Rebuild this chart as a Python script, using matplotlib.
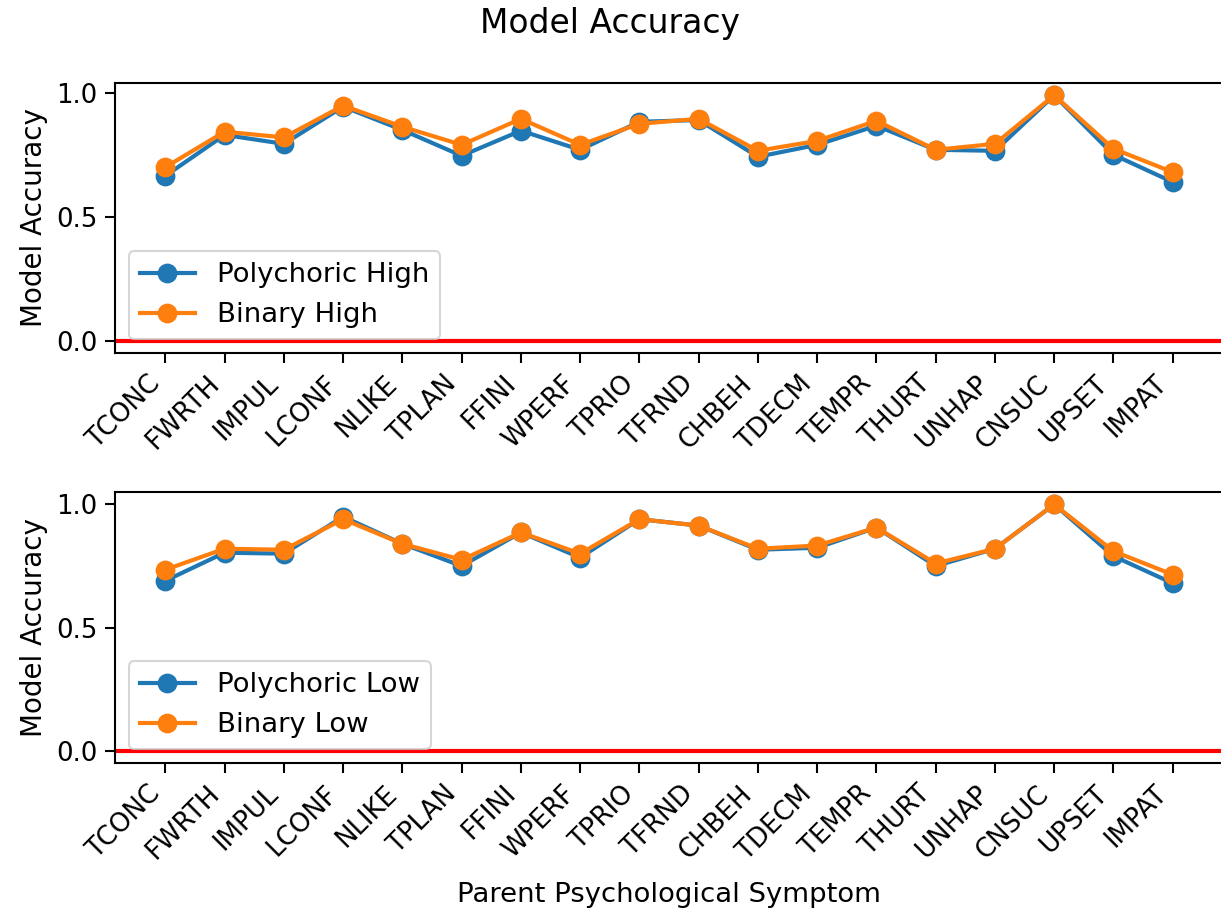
import matplotlib
matplotlib.use("Agg")
from matplotlib import pyplot as plt
from matplotlib.ticker import MultipleLocator

symptoms = ["TCONC", "FWRTH", "IMPUL", "LCONF", "NLIKE", "TPLAN", "FFINI", "WPERF", "TPRIO",
            "TFRND", "CHBEH", "TDECM", "TEMPR", "THURT", "UNHAP", "CNSUC", "UPSET", "IMPAT"]

poly_high = [0.665, 0.83, 0.794, 0.944, 0.85, 0.746, 0.847, 0.77, 0.883,
             0.89, 0.742, 0.79, 0.867, 0.77, 0.766, 0.99, 0.75, 0.64]
binary_high = [0.70, 0.843, 0.82, 0.948, 0.863, 0.79, 0.895, 0.79, 0.875,
               0.895, 0.766, 0.806, 0.887, 0.77, 0.794, 0.99, 0.774, 0.68]

poly_low = [0.69, 0.804, 0.80, 0.95, 0.84, 0.75, 0.886, 0.784, 0.94,
            0.914, 0.816, 0.824, 0.906, 0.75, 0.82, 1.0, 0.79, 0.68]
binary_low = [0.735, 0.82, 0.816, 0.94, 0.84, 0.775, 0.886, 0.80, 0.94,
              0.914, 0.82, 0.833, 0.906, 0.76, 0.82, 1.0, 0.81, 0.715]


def draw(ax, poly, binary, tag):
    ax.plot(symptoms, poly, marker='o', markersize=8.5, linewidth=2, label="Polychoric " + tag)
    ax.plot(symptoms, binary, marker='o', markersize=8.5, linewidth=2, label="Binary " + tag)
    ax.axhline(0, color='red', linewidth=2)
    ax.yaxis.set_major_locator(MultipleLocator(0.5))
    ax.set_ylabel("Model Accuracy", fontsize=13.3)
    ax.legend(loc='lower left', fontsize=13.2)
    ax.tick_params(labelsize=12.5, length=5, width=1)
    for s in ax.spines.values():
        s.set_linewidth(1)
    plt.setp(ax.get_xticklabels(), rotation=45, ha='right')


def main():
    fig = plt.figure(figsize=(1221 / 150, 913 / 150), dpi=150)
    ax1 = fig.add_axes([0.0942, 0.6134, 0.9075, 0.2957])
    ax2 = fig.add_axes([0.0942, 0.1643, 0.9075, 0.2967])

    draw(ax1, poly_high, binary_high, "High")
    draw(ax2, poly_low, binary_low, "Low")
    ax2.set_xlabel("Parent Psychological Symptom", fontsize=13.2, labelpad=8)

    fig.suptitle("Model Accuracy", y=0.992, fontsize=15.8)
    fig.savefig("out.png", dpi=150)


if __name__ == '__main__':
    main()
